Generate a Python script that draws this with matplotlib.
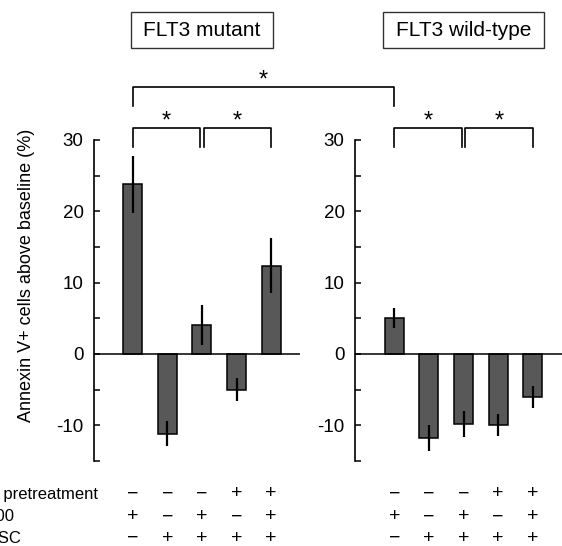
import matplotlib
matplotlib.use("Agg")
import matplotlib.pyplot as plt
from matplotlib.lines import Line2D
from matplotlib.patches import Rectangle
from matplotlib.transforms import blended_transform_factory

plt.rcParams["font.family"] = ["Liberation Sans", "DejaVu Sans"]
plt.rcParams["axes.unicode_minus"] = False

# Data
panel_titles = ["FLT3 mutant", "FLT3 wild-type"]
mutant_means = [23.8, -11.2, 4.0, -5.0, 12.4]
mutant_errors = [4.0, 1.75, 2.8, 1.6, 3.8]
wildtype_means = [5.0, -11.8, -9.8, -10.0, -6.0]
wildtype_errors = [1.4, 1.8, 1.85, 1.55, 1.5]

row_labels = ["FL pretreatment", "AMD3100", "MSC"]
pretreatment = ["\u2212", "\u2212", "\u2212", "+", "+"]
drug = ["+", "\u2212", "+", "\u2212", "+"]
stroma = ["\u2212", "+", "+", "+", "+"]

y_ticks = [-10, 0, 10, 20, 30]
y_minor = [-15, -5, 5, 15, 25]
ylabel = "Annexin V+ cells above baseline (%)"

W, H = 562, 546
BAR_COLOR = "#585858"


def fx(px):
    return px / W


def fy(py):
    return 1 - py / H


fig = plt.figure(figsize=(W / 100, H / 100), dpi=100)
ax1 = fig.add_axes([fx(94), fy(461), 206 / W, 321 / H])
ax2 = fig.add_axes([fx(355), fy(461), 215 / W, 321 / H])
ax1.set_xlim(-1.118, 4.835)
ax2.set_xlim(-1.136, 5.078)

for ax, means, errs in [(ax1, mutant_means, mutant_errors),
                        (ax2, wildtype_means, wildtype_errors)]:
    xs = list(range(len(means)))
    ax.bar(xs, means, width=0.55, color=BAR_COLOR, edgecolor="black",
           linewidth=1.1, zorder=2)
    ax.errorbar(xs, means, yerr=errs, fmt="none", ecolor="black",
                elinewidth=1.6, capsize=0, zorder=3)
    ax.axhline(0, color="black", linewidth=1.1, zorder=4)

    ax.set_ylim(-15, 30)
    ax.set_yticks(y_ticks)
    ax.set_yticks(y_minor, minor=True)
    ax.tick_params(axis="y", which="both", direction="in", length=4.5,
                   width=1.1, labelsize=13.5, pad=7.5)
    ax.set_xticks([])
    for side in ["top", "right", "bottom"]:
        ax.spines[side].set_visible(False)
    ax.spines["left"].set_linewidth(1.2)
    ax.patch.set_alpha(0)

fig.text(fx(27), fy(275), ylabel, rotation=90, ha="center", va="center",
         fontsize=13)

# Titles in boxes, centred over the third bar of each panel
for ax, title, box_w in [(ax1, panel_titles[0], 142), (ax2, panel_titles[1], 161)]:
    tr = blended_transform_factory(ax.transData, fig.transFigure)
    ax.text(2, fy(31), title, transform=tr, ha="center", va="center",
            fontsize=15, clip_on=False)
    cx = ax.transData.transform((2, 0))[0]
    fig.patches.append(Rectangle((fx(cx - box_w / 2), fy(47.7)), box_w / W, 36 / H,
                                 transform=fig.transFigure, fill=False,
                                 edgecolor="#333333", linewidth=1.0))


# Significance brackets
def bracket(ax, x0, x1, y_top, y_leg, star_y):
    ax.add_line(Line2D([x0, x0, x1, x1], [y_leg, y_top, y_top, y_leg],
                       color="black", linewidth=1.2, clip_on=False))
    ax.text((x0 + x1) / 2, star_y, "*", ha="center", va="center",
            fontsize=17, clip_on=False)


for ax in (ax1, ax2):
    bracket(ax, 0, 1.95, 31.64, 29.06, 32.55)
    bracket(ax, 2.05, 4.0, 31.64, 29.06, 32.55)

# big bracket from first mutant bar to first wild-type bar
x_right = ax1.transData.inverted().transform(ax2.transData.transform((0, 0)))[0]
bracket(ax1, 0, x_right, 37.39, 34.77, 38.3)

# Treatment table below the panels
row_y = [494, 516.7, 538.5]
row_ends = [98, 15, 21]
rows = [pretreatment, drug, stroma]
for label, y, x_end in zip(row_labels, row_y, row_ends):
    fig.text(fx(x_end), fy(y), label, ha="right", va="center", fontsize=12)
for ax in (ax1, ax2):
    tr = blended_transform_factory(ax.transData, fig.transFigure)
    for signs, y in zip(rows, row_y):
        for i, s in enumerate(signs):
            ax.text(i, fy(y), s, transform=tr, ha="center", va="center",
                    fontsize=14, clip_on=False)

fig.savefig("out.png", dpi=100)
